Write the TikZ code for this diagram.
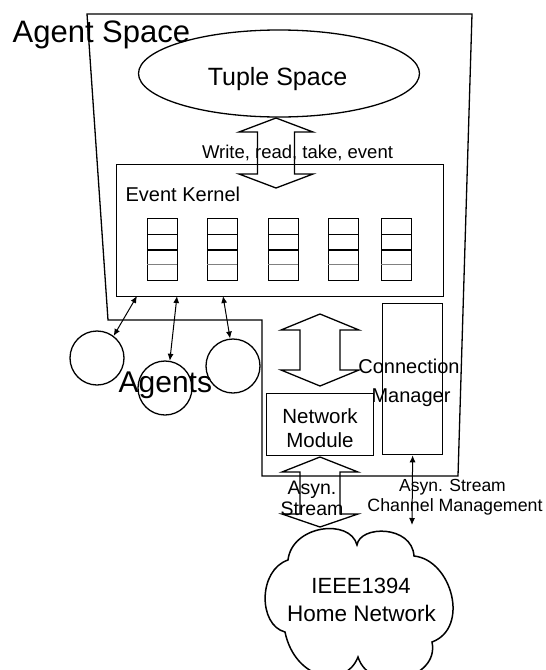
\documentclass[tikz,border=0pt]{standalone}
\usepackage{fontspec}
\setmainfont{Liberation Sans}
\usetikzlibrary{shapes.geometric,arrows.meta}
\newcommand\FatArrow[7]{%
  \draw[fat] (#1,#2) -- (#1+#6,#3) -- (#1+#7,#3) -- (#1+#7,#4) -- (#1+#6,#4)
    -- (#1,#5) -- (#1-#6,#4) -- (#1-#7,#4) -- (#1-#7,#3) -- (#1-#6,#3) -- cycle;}
\begin{document}
\begin{tikzpicture}[x=1pt,y=-1pt,line width=1.3pt,
  box/.style={draw, rectangle, inner sep=0pt, anchor=north west},
  txt/.style={inner sep=0pt, anchor=base},
  fat/.style={line width=1.3pt, line join=miter},
  dbl/.style={{Latex[length=7pt,width=6pt]}-{Latex[length=7pt,width=6pt]}, line width=1pt},
  agent/.style={draw, circle, minimum size=54pt, inner sep=0pt},
  queue/.style={draw, rectangle, inner sep=0pt, minimum width=30pt, minimum height=62pt, anchor=north west},
]
\useasboundingbox (0,0) rectangle (546,670);

% Agent space outline
\draw (87,14) -- (472,14) -- (458,476) -- (262,476) -- (262,320) -- (108,320) -- cycle;
\node[txt, anchor=base west, font=\fontsize{31}{36}\selectfont] (as) at (12,42) {Agent Space};

% Tuple space
\node[draw, ellipse, minimum width=281pt, minimum height=87pt, inner sep=0pt] (ts) at (279,73.5) {};
\node[txt, font=\fontsize{25}{30}\selectfont] (tst) at (277.5,85) {Tuple Space};

% Event kernel
\node[box, minimum width=327pt, minimum height=132pt] (ek) at (116,164) {};
\node[txt, anchor=base west, font=\fontsize{20}{24}\selectfont] (ekt) at (125,201) {Event Kernel};
\foreach \qx [count=\i] in {147,207,268,328,381}{
  \node[queue] (q\i) at (\qx,218) {};
  \draw[line width=1pt] (\qx,234) -- (\qx+30,234);
  \draw[line width=2pt] (\qx,250) -- (\qx+30,250);
  \draw[line width=0.6pt, gray] (\qx,264) -- (\qx+30,264);
}

% write read take event label + fat arrow
\node[txt, font=\fontsize{18.5}{22}\selectfont] (wr) at (297.5,158.5) {Write, read, take, event};
\FatArrow{276}{118}{132}{174}{188}{37}{18.5}

% Agents
\node[agent] (a1) at (97,358) {};
\node[agent] (a2) at (165,388) {};
\node[agent] (a3) at (233,366) {};
\node[txt, anchor=base west, font=\fontsize{30}{36}\selectfont] (agt) at (118,392) {Agents};
\coordinate (k1) at (137,296);
\coordinate (k2) at (177,296);
\coordinate (k3) at (223,296);
\draw[dbl] (k1) -- (a1.53);
\draw[dbl] (k2) -- (a2.80);
\draw[dbl] (k3) -- (a3.96);

% Connection manager
\node[box, minimum width=60pt, minimum height=151pt] (cm) at (382,303) {};
\node[txt, font=\fontsize{20}{24}\selectfont] (cmt1) at (409,373) {Connection};
\node[txt, font=\fontsize{20}{24}\selectfont] (cmt2) at (411,402) {Manager};

% kernel <-> network module
\FatArrow{320}{314}{330}{370}{386}{39}{20}

% Network module
\node[box, minimum width=107pt, minimum height=62pt] (nm) at (266,393) {};
\node[txt, font=\fontsize{20.5}{24}\selectfont] (nmt1) at (320,423) {Network};
\node[txt, font=\fontsize{20.5}{24}\selectfont] (nmt2) at (320,447) {Module};

% network module <-> cloud
\node[txt, font=\fontsize{19.5}{24}\selectfont] (ast1) at (312,494) {Asyn.};
\node[txt, font=\fontsize{19.5}{24}\selectfont] (ast2) at (312,515) {Stream};
\FatArrow{320}{457}{472}{514}{527}{38}{20}

% channel management
\coordinate (cmend) at (412,525);
\draw[dbl] (cm.south) -- (cmend);
\node[txt, font=\fontsize{17.5}{22}\selectfont] (chm1) at (452.5,491) {Asyn. Stream};
\node[txt, font=\fontsize{17.8}{22}\selectfont] (chm2) at (455,511) {Channel Management};

% Cloud
\draw[line width=1.5pt] (357,545) .. controls (360,525) and (412,525) .. (414,556)
 .. controls (452,560) and (470,628) .. (432,642)
 .. controls (440,680) and (370,695) .. (358,657)
 .. controls (345,690) and (295,680) .. (285,632)
 .. controls (258,625) and (258,570) .. (288,560)
 .. controls (292,525) and (350,518) .. (357,545) -- cycle;
\node[txt, font=\fontsize{22}{26}\selectfont] (cl1) at (361,593) {IEEE1394};
\node[txt, font=\fontsize{22.5}{26}\selectfont] (cl2) at (361.5,621) {Home Network};
\end{tikzpicture}
\end{document}
